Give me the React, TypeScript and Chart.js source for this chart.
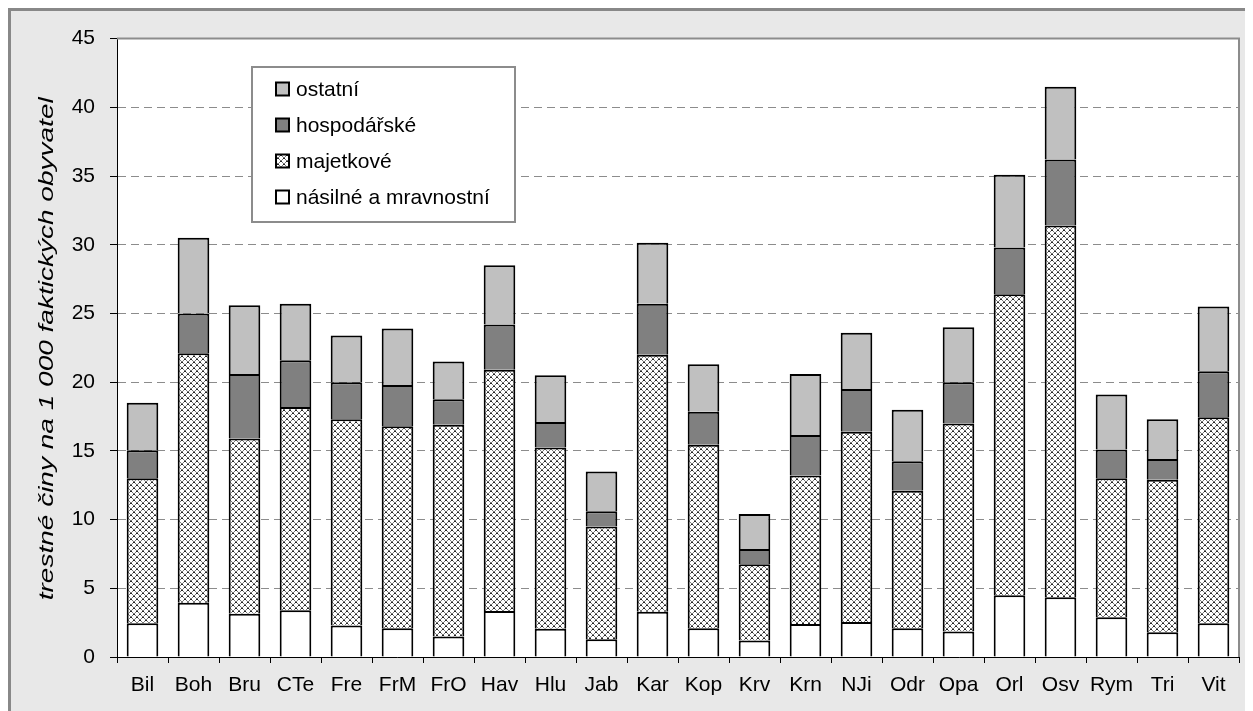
import React, { useEffect, useRef } from "react";
import { Chart, registerables } from "chart.js";

Chart.register(...registerables);

const categories = ["Bil", "Boh", "Bru", "CTe", "Fre", "FrM", "FrO", "Hav", "Hlu", "Jab", "Kar", "Kop", "Krv", "Krn", "NJi", "Odr", "Opa", "Orl", "Osv", "Rym", "Tri", "Vit"];
const nasilne = [2.45, 3.95, 3.15, 3.4, 2.3, 2.1, 1.5, 3.35, 2.05, 1.3, 3.3, 2.1, 1.2, 2.4, 2.55, 2.1, 1.85, 4.5, 4.35, 2.9, 1.8, 2.45];
const majetkove = [10.55, 18.15, 12.75, 14.8, 15.0, 14.7, 15.4, 17.55, 13.2, 8.2, 18.7, 13.35, 5.55, 10.8, 13.85, 10.0, 15.15, 21.9, 27.05, 10.1, 11.1, 15.0];
const hospodarske = [2.05, 2.9, 4.7, 3.4, 2.7, 3.0, 1.85, 3.3, 1.85, 1.1, 3.7, 2.4, 1.1, 2.95, 3.1, 2.15, 3.0, 3.4, 4.8, 2.1, 1.5, 3.35];
const ostatni = [3.45, 5.5, 5.0, 4.1, 3.4, 4.1, 2.75, 4.3, 3.4, 2.9, 4.45, 3.45, 2.55, 4.45, 4.1, 3.75, 4.0, 5.3, 5.3, 4.0, 2.9, 4.7];
const seriesLabels = ["násilné a mravnostní", "majetkové", "hospodářské", "ostatní"];
const yTitle = "trestné činy na 1 000 faktických obyvatel";
const yMin = 0;
const yMax = 45;
const yStep = 5;

const FONT = '"Liberation Sans", Arial, sans-serif';

function makePattern(): CanvasPattern | string {
  const c = document.createElement("canvas");
  c.width = 6;
  c.height = 6;
  const g = c.getContext("2d");
  if (!g) return "#ccc";
  g.fillStyle = "#ffffff";
  g.fillRect(0, 0, 6, 6);
  for (let i = 0; i < 6; i++) {
    g.fillStyle = i % 3 === 0 ? "#222" : "#7a7a7a";
    g.fillRect(i, i, 1, 1);
    g.fillRect(5 - i, i, 1, 1);
  }
  const p = g.createPattern(c, "repeat");
  return p || "#ccc";
}

const framePlugin = {
  id: "frame",
  beforeDraw(chart: any) {
    const { ctx, chartArea } = chart;
    ctx.save();
    ctx.fillStyle = "#ffffff";
    ctx.fillRect(chartArea.left, chartArea.top, chartArea.right - chartArea.left, chartArea.bottom - chartArea.top);
    ctx.restore();
  },
  beforeDatasetsDraw(chart: any) {
    const { ctx, chartArea } = chart;
    ctx.save();
    ctx.strokeStyle = "#8c8c8c";
    ctx.lineWidth = 2;
    ctx.beginPath();
    ctx.moveTo(chartArea.left, chartArea.top);
    ctx.lineTo(chartArea.right, chartArea.top);
    ctx.lineTo(chartArea.right, chartArea.bottom);
    ctx.stroke();
    ctx.restore();
  },
  afterDraw(chart: any) {
    const { ctx, chartArea } = chart;
    ctx.save();
    ctx.font = "italic 20px " + FONT;
    const w = ctx.measureText(yTitle).width;
    const k = 503 / w;
    ctx.translate(36, (chartArea.top + chartArea.bottom) / 2 + 1);
    ctx.rotate(-Math.PI / 2);
    ctx.scale(k, 1);
    ctx.fillStyle = "#000";
    ctx.textAlign = "center";
    ctx.textBaseline = "middle";
    ctx.fillText(yTitle, 0, 0);
    ctx.restore();
  },
};

const legendPlugin = {
  id: "boxLegend",
  afterDraw(chart: any) {
    const ctx = chart.ctx;
    const x0 = 241, y0 = 56, w = 263, h = 155;
    ctx.save();
    ctx.fillStyle = "#ffffff";
    ctx.fillRect(x0, y0, w, h);
    ctx.strokeStyle = "#8c8c8c";
    ctx.lineWidth = 2;
    ctx.strokeRect(x0, y0, w, h);
    const items = chart.data.datasets.slice().reverse();
    items.forEach((ds: any, i: number) => {
      const cy = 78 + i * 36;
      ctx.fillStyle = ds.backgroundColor;
      ctx.fillRect(265, cy - 6.5, 13, 13);
      ctx.strokeStyle = "#000";
      ctx.lineWidth = 2;
      ctx.strokeRect(265, cy - 6.5, 13, 13);
      ctx.fillStyle = "#000";
      ctx.font = "21px " + FONT;
      ctx.textBaseline = "middle";
      ctx.textAlign = "left";
      ctx.fillText(ds.label, 285, cy + 1);
    });
    ctx.restore();
  },
};

export default function App() {
  const ref = useRef<HTMLCanvasElement | null>(null);
  useEffect(() => {
    if (!ref.current) return;
    const pattern = makePattern();
    const common = { borderColor: "#000", borderWidth: 2, barPercentage: 0.62, categoryPercentage: 1 };
    const chart = new Chart(ref.current, {
      type: "bar",
      data: {
        labels: categories,
        datasets: [
          { label: seriesLabels[0], data: nasilne, backgroundColor: "#ffffff", ...common },
          { label: seriesLabels[1], data: majetkove, backgroundColor: pattern as any, ...common },
          { label: seriesLabels[2], data: hospodarske, backgroundColor: "#808080", ...common },
          { label: seriesLabels[3], data: ostatni, backgroundColor: "#c0c0c0", ...common },
        ],
      },
      options: {
        animation: false,
        responsive: false,
        devicePixelRatio: 1,
        layout: { padding: { left: 0, top: 26, right: 14, bottom: 0 } },
        plugins: { legend: { display: false }, tooltip: { enabled: false } },
        scales: {
          x: {
            stacked: true,
            grid: { offset: true, drawOnChartArea: false, drawTicks: true, tickLength: 6, tickColor: "#000", tickWidth: 1 },
            border: { display: true, color: "#000", width: 1 },
            ticks: { color: "#000", font: { family: FONT, size: 21 }, padding: 10, maxRotation: 0, autoSkip: false },
            afterFit: (s: any) => { s.height = 54; },
          },
          y: {
            stacked: true,
            min: yMin,
            max: yMax,
            grid: {
              color: (c: any) => (c.tick && (c.tick.value === yMin || c.tick.value === yMax) ? "rgba(0,0,0,0)" : "#8c8c8c"),
              lineWidth: 1,
              tickLength: 7,
              tickColor: "#000",
              tickWidth: 1,
              tickBorderDash: [],
            },
            border: { display: true, color: "#000", width: 1, dash: [8, 5] },
            ticks: { stepSize: yStep, color: "#000", font: { family: FONT, size: 21 }, padding: 15 },
            title: { display: false },
            afterFit: (s: any) => { s.width = 106; },
          },
        },
      },
      plugins: [framePlugin, legendPlugin],
    });
    return () => chart.destroy();
  }, []);
  return (
    <div
      style={{
        position: "relative",
        boxSizing: "border-box",
        width: 1245,
        height: 703,
        background: "#e8e8e8",
        borderTop: "3px solid #888",
        borderLeft: "3px solid #888",
        overflow: "hidden",
      }}
    >
      <canvas ref={ref} width={1242} height={700} style={{ display: "block", width: 1242, height: 700 }} />
    </div>
  );
}
